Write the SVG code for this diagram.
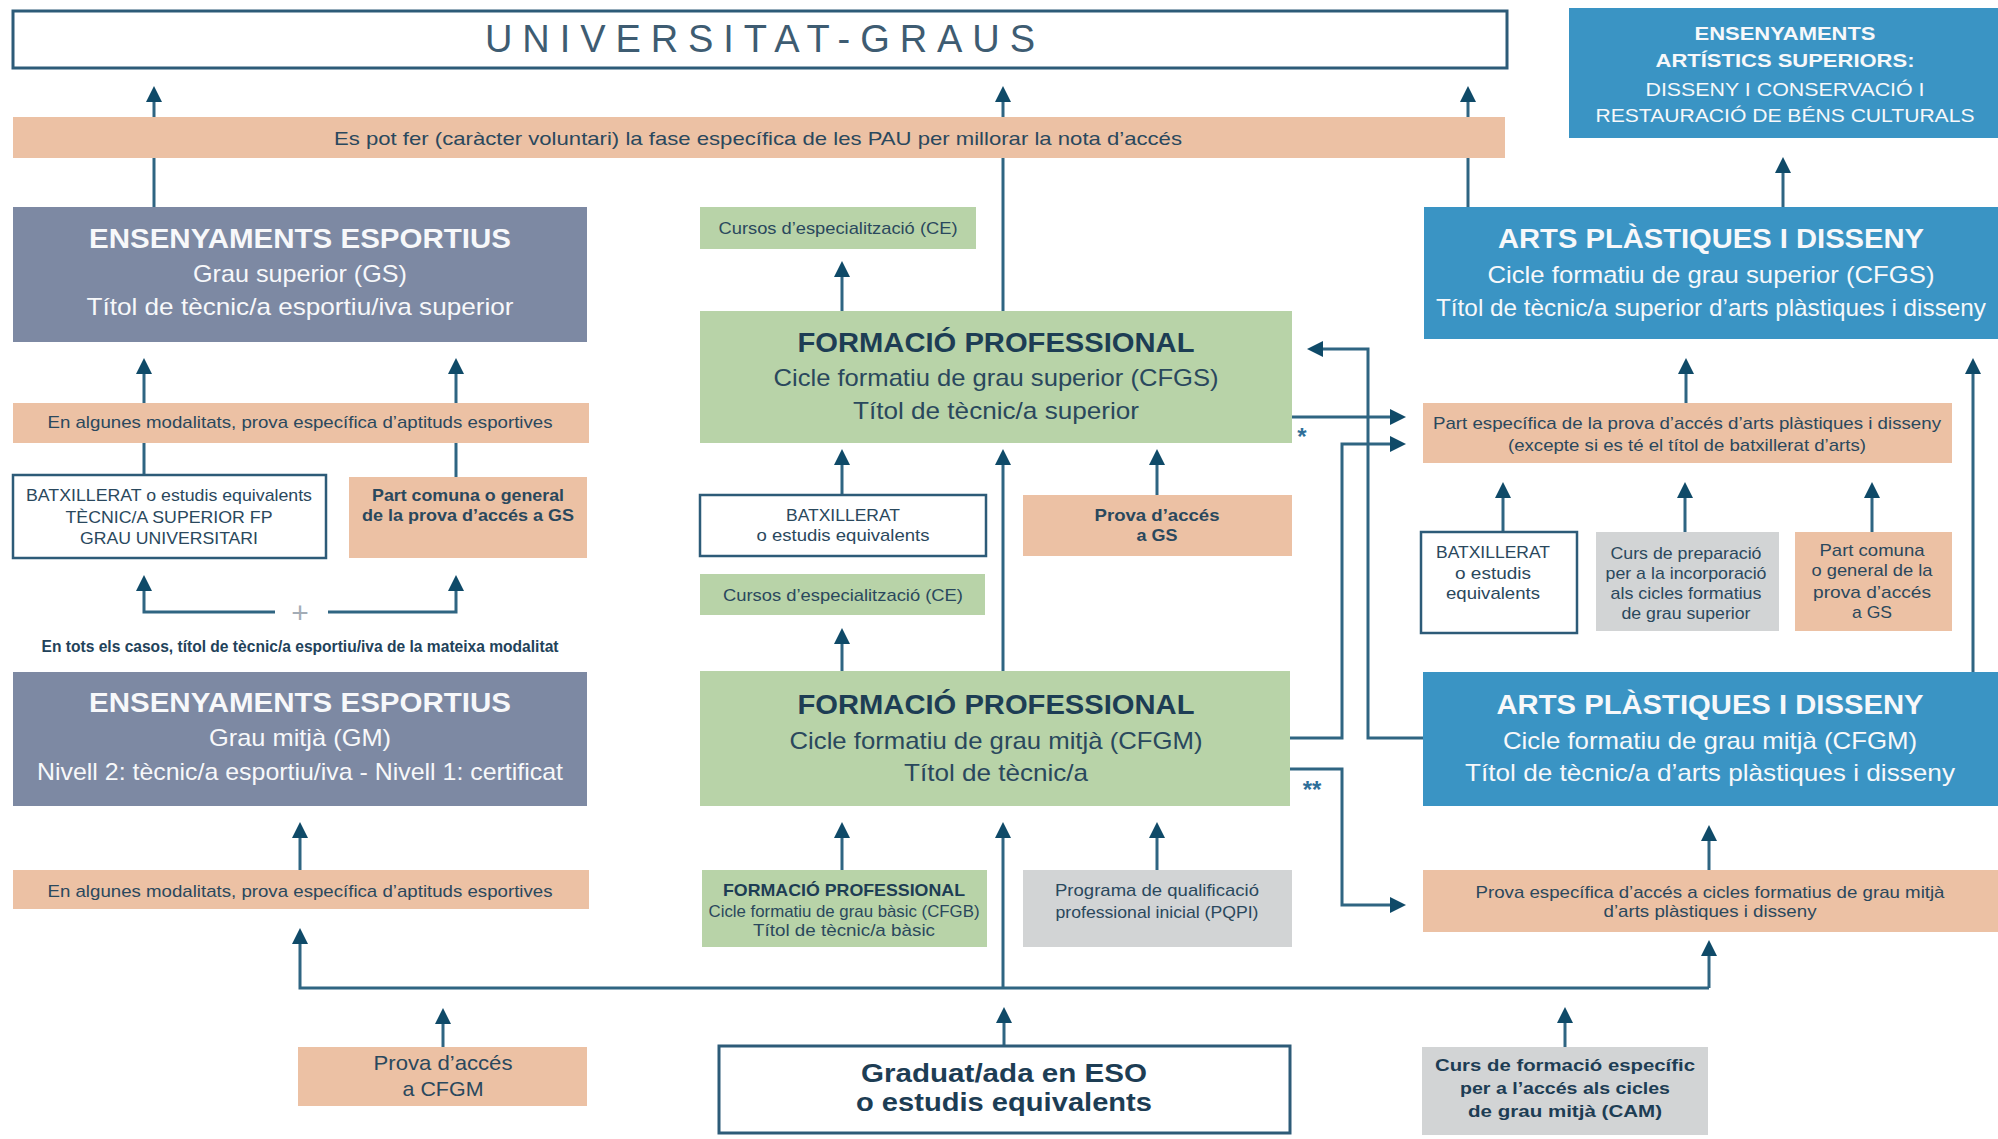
<svg xmlns="http://www.w3.org/2000/svg" width="1998" height="1139" viewBox="0 0 1998 1139">
<style>
text{font-family:"Liberation Sans Narrow","Liberation Sans",Arial,sans-serif;text-anchor:middle;dominant-baseline:central;fill:#2a485d}
.w{fill:#f7f8fa}
.b{font-weight:bold}
.h{font-size:27px;font-weight:bold}
.hd{fill:#1d3d54}
.s{font-size:24px}
.m{font-size:19px}
.sm{font-size:17px}
.slate{fill:#7d89a3}
.peach{fill:#ecc1a4}
.green{fill:#b8d3a8}
.blue{fill:#3a94c4}
.grey{fill:#d2d4d5}
.outl{fill:#fff;stroke:#2d5b78;stroke-width:2.5}
.c path{fill:none;stroke:#2f6582;stroke-width:3;marker-end:url(#ah)}
.star{font-size:24px;font-weight:bold;fill:#2f6f99}
</style>
<defs>
<marker id="ah" viewBox="0 0 16 16" markerWidth="16" markerHeight="16" refX="12" refY="8" markerUnits="userSpaceOnUse" orient="auto">
<path d="M0,0 L16,8 L0,16 Z" fill="#0f4a68"/>
</marker>
</defs>
<rect width="1998" height="1139" fill="#fff"/>

<g id="connectors" class="c">
<path d="M154,207 V90"/>
<path d="M1003,311 V90"/>
<path d="M1468,207 V90"/>
<path d="M144,475 V362"/>
<path d="M456,477 V362"/>
<path d="M275,612 H144 V579"/>
<path d="M328,612 H456 V579"/>
<path d="M300,870 V826"/>
<path d="M1709,988 H300 V932"/>
<path d="M1003,988 V826"/>
<path d="M1709,988 V944"/>
<path d="M443,1047 V1012"/>
<path d="M1004,1046 V1011"/>
<path d="M1565,1047 V1011"/>
<path d="M842,311 V265"/>
<path d="M842,495 V453"/>
<path d="M1003,671 V453"/>
<path d="M1157,495 V453"/>
<path d="M842,671 V632"/>
<path d="M842,870 V826"/>
<path d="M1157,870 V826"/>
<path d="M1783,207 V161"/>
<path d="M1686,403 V362"/>
<path d="M1973,672 V362"/>
<path d="M1503,532 V486"/>
<path d="M1685,532 V486"/>
<path d="M1872,532 V486"/>
<path d="M1709,870 V829"/>
<path d="M1292,417 H1402"/>
<path d="M1290,738 H1342 V444 H1402"/>
<path d="M1423,738 H1368 V349 H1311"/>
<path d="M1290,769 H1342 V905 H1402"/>
<text x="1302" y="436" class="star">*</text>
<text x="1312" y="789" class="star">**</text>
</g>

<g id="title">
<rect x="13" y="11" width="1494" height="57" fill="#fff" stroke="#2d5b78" stroke-width="3"/>
<text x="760" y="39" style="font-size:38px;fill:#3e5c72" textLength="550" lengthAdjust="spacing">UNIVERSITAT-GRAUS</text>
</g>

<g id="pau-bar">
<rect x="13" y="117" width="1492" height="41" class="peach"/>
<text x="758" y="138" class="m" textLength="848" lengthAdjust="spacingAndGlyphs">Es pot fer (caràcter voluntari) la fase específica de les PAU per millorar la nota d’accés</text>
</g>

<g id="ensenyaments-artistics">
<rect x="1569" y="8" width="429" height="130" class="blue"/>
<text x="1785" y="33" class="w b" style="font-size:19px" textLength="181" lengthAdjust="spacingAndGlyphs">ENSENYAMENTS</text>
<text x="1785" y="60" class="w b" style="font-size:19px" textLength="259" lengthAdjust="spacingAndGlyphs">ARTÍSTICS SUPERIORS:</text>
<text x="1785" y="89" class="w" style="font-size:19px" textLength="279" lengthAdjust="spacingAndGlyphs">DISSENY I CONSERVACIÓ I</text>
<text x="1785" y="115" class="w" style="font-size:19px" textLength="379" lengthAdjust="spacingAndGlyphs">RESTAURACIÓ DE BÉNS CULTURALS</text>
</g>

<g id="esportius-gs">
<rect x="13" y="207" width="574" height="135" class="slate"/>
<text x="300" y="239" class="h w" textLength="422" lengthAdjust="spacingAndGlyphs">ENSENYAMENTS ESPORTIUS</text>
<text x="300" y="273" class="s w" textLength="214" lengthAdjust="spacingAndGlyphs">Grau superior (GS)</text>
<text x="300" y="306" class="s w" textLength="427" lengthAdjust="spacingAndGlyphs">Títol de tècnic/a esportiu/iva superior</text>
</g>

<g id="prova-aptituds-gs">
<rect x="13" y="403" width="576" height="40" class="peach"/>
<text x="300" y="422" class="sm" textLength="505" lengthAdjust="spacingAndGlyphs">En algunes modalitats, prova específica d’aptituds esportives</text>
</g>

<g id="batxillerat-esportius">
<rect x="13" y="475" width="313" height="83" class="outl"/>
<text x="169" y="495" class="sm" textLength="286" lengthAdjust="spacingAndGlyphs">BATXILLERAT o estudis equivalents</text>
<text x="169" y="517" class="sm" textLength="207" lengthAdjust="spacingAndGlyphs">TÈCNIC/A SUPERIOR FP</text>
<text x="169" y="538" class="sm" textLength="178" lengthAdjust="spacingAndGlyphs">GRAU UNIVERSITARI</text>
</g>

<g id="part-comuna-esportius">
<rect x="349" y="477" width="238" height="81" class="peach"/>
<text x="468" y="495" class="sm b" textLength="192" lengthAdjust="spacingAndGlyphs">Part comuna o general</text>
<text x="468" y="515" class="sm b" textLength="212" lengthAdjust="spacingAndGlyphs">de la prova d’accés a GS</text>
</g>

<g id="nota-esportius">
<text x="300" y="612" style="font-size:30px;fill:#a3acb6">+</text>
<text x="300" y="646" class="b" style="font-size:16px;fill:#22425a" textLength="517" lengthAdjust="spacingAndGlyphs">En tots els casos, títol de tècnic/a esportiu/iva de la mateixa modalitat</text>
</g>

<g id="esportius-gm">
<rect x="13" y="672" width="574" height="134" class="slate"/>
<text x="300" y="703" class="h w" textLength="422" lengthAdjust="spacingAndGlyphs">ENSENYAMENTS ESPORTIUS</text>
<text x="300" y="737" class="s w" textLength="182" lengthAdjust="spacingAndGlyphs">Grau mitjà (GM)</text>
<text x="300" y="771" class="s w" textLength="526" lengthAdjust="spacingAndGlyphs">Nivell 2: tècnic/a esportiu/iva - Nivell 1: certificat</text>
</g>

<g id="prova-aptituds-gm">
<rect x="13" y="870" width="576" height="39" class="peach"/>
<text x="300" y="891" class="sm" textLength="505" lengthAdjust="spacingAndGlyphs">En algunes modalitats, prova específica d’aptituds esportives</text>
</g>

<g id="prova-cfgm">
<rect x="298" y="1047" width="289" height="59" class="peach"/>
<text x="443" y="1062" style="font-size:21px" textLength="139" lengthAdjust="spacingAndGlyphs">Prova d’accés</text>
<text x="443" y="1088" style="font-size:21px" textLength="81" lengthAdjust="spacingAndGlyphs">a CFGM</text>
</g>

<g id="ce-superior">
<rect x="700" y="207" width="276" height="42" class="green"/>
<text x="838" y="228" class="sm" textLength="239" lengthAdjust="spacingAndGlyphs">Cursos d’especialització (CE)</text>
</g>

<g id="fp-cfgs">
<rect x="700" y="311" width="592" height="132" class="green"/>
<text x="996" y="343" class="h hd" textLength="397" lengthAdjust="spacingAndGlyphs">FORMACIÓ PROFESSIONAL</text>
<text x="996" y="377" class="s" textLength="445" lengthAdjust="spacingAndGlyphs">Cicle formatiu de grau superior (CFGS)</text>
<text x="996" y="410" class="s" textLength="286" lengthAdjust="spacingAndGlyphs">Títol de tècnic/a superior</text>
</g>

<g id="batxillerat-fp">
<rect x="700" y="495" width="286" height="61" class="outl"/>
<text x="843" y="515" class="sm" textLength="114" lengthAdjust="spacingAndGlyphs">BATXILLERAT</text>
<text x="843" y="535" class="sm" textLength="173" lengthAdjust="spacingAndGlyphs">o estudis equivalents</text>
</g>

<g id="prova-gs">
<rect x="1023" y="495" width="269" height="61" class="peach"/>
<text x="1157" y="515" class="sm b" textLength="125" lengthAdjust="spacingAndGlyphs">Prova d’accés</text>
<text x="1157" y="535" class="sm b" textLength="41" lengthAdjust="spacingAndGlyphs">a GS</text>
</g>

<g id="ce-mitja">
<rect x="700" y="574" width="285" height="41" class="green"/>
<text x="843" y="595" class="sm" textLength="240" lengthAdjust="spacingAndGlyphs">Cursos d’especialització (CE)</text>
</g>

<g id="fp-cfgm">
<rect x="700" y="671" width="590" height="135" class="green"/>
<text x="996" y="705" class="h hd" textLength="397" lengthAdjust="spacingAndGlyphs">FORMACIÓ PROFESSIONAL</text>
<text x="996" y="740" class="s" textLength="413" lengthAdjust="spacingAndGlyphs">Cicle formatiu de grau mitjà (CFGM)</text>
<text x="996" y="772" class="s" textLength="184" lengthAdjust="spacingAndGlyphs">Títol de tècnic/a</text>
</g>

<g id="fp-basic">
<rect x="702" y="870" width="285" height="77" class="green"/>
<text x="844" y="890" class="sm b hd" textLength="242" lengthAdjust="spacingAndGlyphs">FORMACIÓ PROFESSIONAL</text>
<text x="844" y="911" class="sm" textLength="271" lengthAdjust="spacingAndGlyphs">Cicle formatiu de grau bàsic (CFGB)</text>
<text x="844" y="930" class="sm" textLength="182" lengthAdjust="spacingAndGlyphs">Títol de tècnic/a bàsic</text>
</g>

<g id="pqpi">
<rect x="1023" y="870" width="269" height="77" class="grey"/>
<text x="1157" y="890" class="sm" textLength="204" lengthAdjust="spacingAndGlyphs">Programa de qualificació</text>
<text x="1157" y="912" class="sm" textLength="203" lengthAdjust="spacingAndGlyphs">professional inicial (PQPI)</text>
</g>

<g id="eso">
<rect x="719" y="1046" width="571" height="87" fill="#fff" stroke="#2d5b78" stroke-width="3"/>
<text x="1004" y="1073" class="b hd" style="font-size:26px" textLength="286" lengthAdjust="spacingAndGlyphs">Graduat/ada en ESO</text>
<text x="1004" y="1102" class="b hd" style="font-size:26px" textLength="296" lengthAdjust="spacingAndGlyphs">o estudis equivalents</text>
</g>

<g id="cam">
<rect x="1422" y="1047" width="286" height="88" class="grey"/>
<text x="1565" y="1065" class="sm b hd" textLength="260" lengthAdjust="spacingAndGlyphs">Curs de formació específic</text>
<text x="1565" y="1088" class="sm b hd" textLength="210" lengthAdjust="spacingAndGlyphs">per a l’accés als cicles</text>
<text x="1565" y="1111" class="sm b hd" textLength="194" lengthAdjust="spacingAndGlyphs">de grau mitjà (CAM)</text>
</g>

<g id="arts-cfgs">
<rect x="1424" y="207" width="574" height="132" class="blue"/>
<text x="1711" y="239" class="h w" textLength="426" lengthAdjust="spacingAndGlyphs">ARTS PLÀSTIQUES I DISSENY</text>
<text x="1711" y="274" class="s w" textLength="447" lengthAdjust="spacingAndGlyphs">Cicle formatiu de grau superior (CFGS)</text>
<text x="1711" y="307" class="s w" textLength="550" lengthAdjust="spacingAndGlyphs">Títol de tècnic/a superior d’arts plàstiques i disseny</text>
</g>

<g id="part-especifica-arts">
<rect x="1423" y="403" width="529" height="60" class="peach"/>
<text x="1687" y="423" class="sm" textLength="508" lengthAdjust="spacingAndGlyphs">Part específica de la prova d’accés d’arts plàstiques i disseny</text>
<text x="1687" y="445" class="sm" textLength="358" lengthAdjust="spacingAndGlyphs">(excepte si es té el títol de batxillerat d’arts)</text>
</g>

<g id="batxillerat-arts">
<rect x="1421" y="532" width="156" height="101" class="outl"/>
<text x="1493" y="552" class="sm" textLength="114" lengthAdjust="spacingAndGlyphs">BATXILLERAT</text>
<text x="1493" y="573" class="sm" textLength="76" lengthAdjust="spacingAndGlyphs">o estudis</text>
<text x="1493" y="593" class="sm" textLength="94" lengthAdjust="spacingAndGlyphs">equivalents</text>
</g>

<g id="curs-preparacio">
<rect x="1596" y="532" width="183" height="99" class="grey"/>
<text x="1686" y="553" class="sm" textLength="151" lengthAdjust="spacingAndGlyphs">Curs de preparació</text>
<text x="1686" y="573" class="sm" textLength="161" lengthAdjust="spacingAndGlyphs">per a la incorporació</text>
<text x="1686" y="593" class="sm" textLength="151" lengthAdjust="spacingAndGlyphs">als cicles formatius</text>
<text x="1686" y="613" class="sm" textLength="129" lengthAdjust="spacingAndGlyphs">de grau superior</text>
</g>

<g id="part-comuna-arts">
<rect x="1795" y="532" width="157" height="99" class="peach"/>
<text x="1872" y="550" class="sm" textLength="105" lengthAdjust="spacingAndGlyphs">Part comuna</text>
<text x="1872" y="570" class="sm" textLength="121" lengthAdjust="spacingAndGlyphs">o general de la</text>
<text x="1872" y="592" class="sm" textLength="118" lengthAdjust="spacingAndGlyphs">prova d’accés</text>
<text x="1872" y="612" class="sm" textLength="40" lengthAdjust="spacingAndGlyphs">a GS</text>
</g>

<g id="arts-cfgm">
<rect x="1423" y="672" width="575" height="134" class="blue"/>
<text x="1710" y="705" class="h w" textLength="427" lengthAdjust="spacingAndGlyphs">ARTS PLÀSTIQUES I DISSENY</text>
<text x="1710" y="740" class="s w" textLength="414" lengthAdjust="spacingAndGlyphs">Cicle formatiu de grau mitjà (CFGM)</text>
<text x="1710" y="772" class="s w" textLength="490" lengthAdjust="spacingAndGlyphs">Títol de tècnic/a d’arts plàstiques i disseny</text>
</g>

<g id="prova-especifica-cfgm">
<rect x="1423" y="870" width="575" height="62" class="peach"/>
<text x="1710" y="892" class="sm" textLength="469" lengthAdjust="spacingAndGlyphs">Prova específica d’accés a cicles formatius de grau mitjà</text>
<text x="1710" y="911" class="sm" textLength="213" lengthAdjust="spacingAndGlyphs">d’arts plàstiques i disseny</text>
</g>
</svg>
